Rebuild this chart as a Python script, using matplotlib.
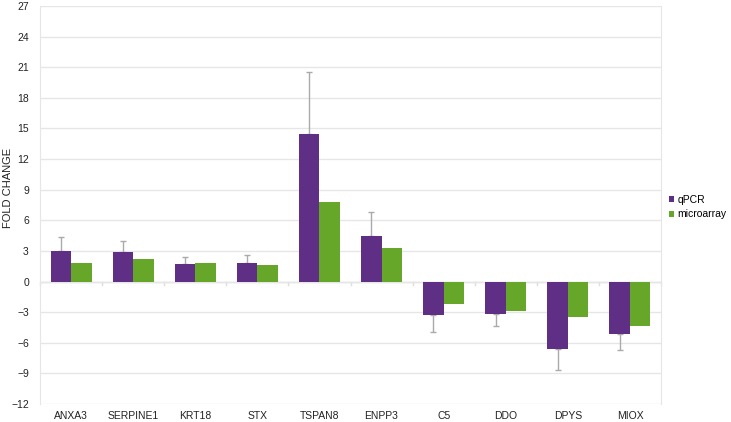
import numpy as np
import matplotlib.pyplot as plt

plt.rcParams['font.family'] = ['Liberation Sans', 'DejaVu Sans']

genes = ["ANXA3", "SERPINE1", "KRT18", "STX", "TSPAN8", "ENPP3", "C5", "DDO", "DPYS", "MIOX"]
qpcr = [3.0, 2.9, 1.75, 1.85, 14.5, 4.5, -3.3, -3.2, -6.6, -5.1]
qpcr_err = [1.4, 1.1, 0.65, 0.75, 6.0, 2.35, 1.6, 1.2, 2.1, 1.6]
microarray = [1.8, 2.2, 1.8, 1.65, 7.8, 3.3, -2.2, -2.9, -3.5, -4.4]

purple = "#5E2F84"
green = "#66A72A"
grid_col = "#E6E6E6"

fig = plt.figure(figsize=(7.31, 4.22), dpi=100)
ax = fig.add_axes([40 / 731, 1 - 404 / 422, 621 / 731, 398 / 422])

x = np.arange(len(genes))
w = 0.33
ax.bar(x - w / 2, qpcr, w, color=purple, label="qPCR", zorder=3)
ax.bar(x + w / 2, microarray, w, color=green, label="microarray", zorder=3)

# one-sided error bars, pointing away from zero
lower = [e if v < 0 else 0 for v, e in zip(qpcr, qpcr_err)]
upper = [e if v >= 0 else 0 for v, e in zip(qpcr, qpcr_err)]
ax.errorbar(x - w / 2, qpcr, yerr=[lower, upper], fmt="none", ecolor="#AAAAAA",
            elinewidth=1, capsize=2.5, capthick=1, zorder=2)

ax.set_xlim(-0.5, len(genes) - 0.5)
ax.set_ylim(-12, 27)
ax.set_yticks(np.arange(-12, 28, 3))
ax.set_xticks(x)
ax.set_xticklabels(genes)
ax.tick_params(axis="both", length=0, labelsize=7.5, colors="#222222")
ax.tick_params(axis="x", pad=5)
ax.tick_params(axis="y", pad=8)
ax.yaxis.grid(True, color=grid_col, linewidth=1, zorder=0)

# zero line with small ticks between categories
ax.axhline(0, color="#DDDDDD", linewidth=1, zorder=1)
for b in np.arange(-0.5, len(genes), 1.0):
    ax.plot([b, b], [0, -0.3], color="#DDDDDD", linewidth=1, zorder=1, clip_on=False)

for side in ["top", "bottom"]:
    ax.spines[side].set_visible(False)
for side in ["left", "right"]:
    ax.spines[side].set_color(grid_col)

ax.set_ylabel("FOLD CHANGE", fontsize=8, color="#222222")
ax.yaxis.set_label_coords(-0.044, 0.543)

ax.legend(loc="center left", bbox_to_anchor=(1.013, 0.495), frameon=False,
          fontsize=7.5, handlelength=0.5, handleheight=0.5, handletextpad=0.3,
          labelspacing=0.45, borderaxespad=0, borderpad=0)

fig.savefig("out.png", dpi=100)
